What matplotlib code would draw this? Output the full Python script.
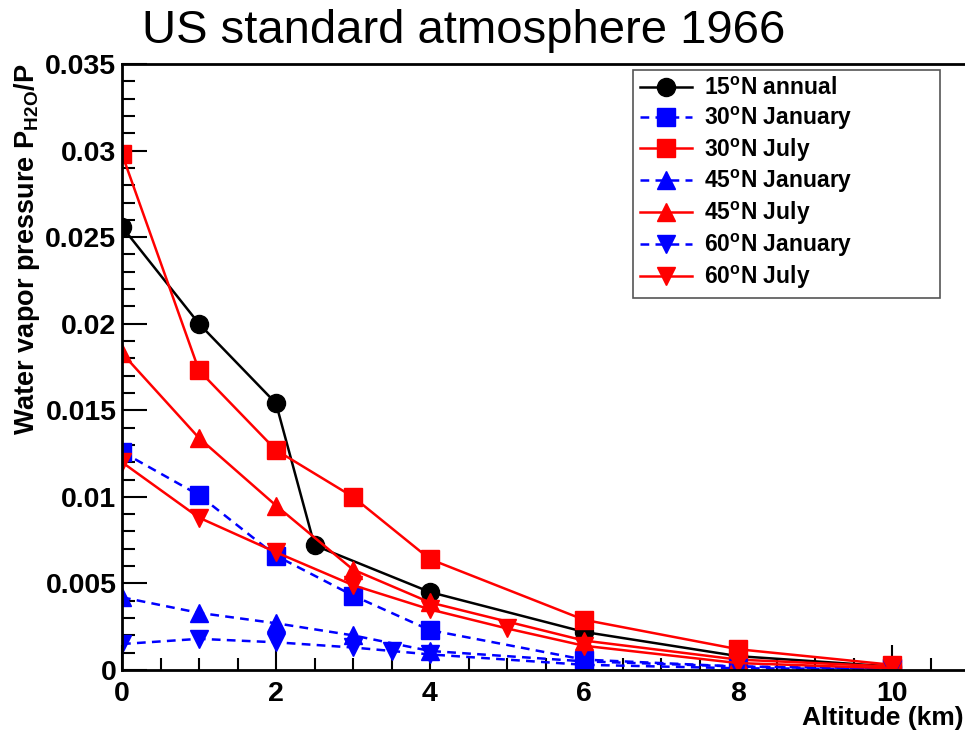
import matplotlib
matplotlib.use("Agg")
import matplotlib.pyplot as plt
from matplotlib.ticker import MultipleLocator, FuncFormatter

plt.rcParams['font.family'] = ['Liberation Sans', 'DejaVu Sans']
plt.rcParams['mathtext.fontset'] = 'custom'
plt.rcParams['mathtext.rm'] = 'Liberation Sans'
plt.rcParams['mathtext.bf'] = 'Liberation Sans:bold'

# altitude grids (km)
alt_15 = [0, 1, 2, 2.5, 4, 6, 8, 10]
alt_std = [0, 1, 2, 3, 4, 6, 8, 10]
alt_60jan = [0, 1, 2, 3, 3.5, 4, 6, 8, 10]
alt_60jul = [0, 1, 2, 3, 4, 5, 6, 8, 10]

# water vapour partial pressure ratio P_H2O / P
p_15ann = [0.0256, 0.0200, 0.0154, 0.0072, 0.0045, 0.0022, 0.0008, 0.0002]
p_30jan = [0.0126, 0.0101, 0.0066, 0.0043, 0.0023, 0.0006, 0.0002, 0.0001]
p_30jul = [0.0298, 0.0173, 0.0127, 0.0100, 0.0064, 0.0029, 0.0012, 0.0003]
p_45jan = [0.0042, 0.0033, 0.0027, 0.0020, 0.0011, 0.0005, 0.0002, 0.00005]
p_45jul = [0.0183, 0.0134, 0.0095, 0.0058, 0.0039, 0.0017, 0.0006, 0.0002]
p_60jan = [0.0015, 0.0018, 0.0016, 0.0013, 0.0011, 0.0009, 0.0003, 0.0001, 0.00005]
p_60jul = [0.0120, 0.0088, 0.0068, 0.0049, 0.0035, 0.0024, 0.0014, 0.0004, 0.0001]

deg = r'$^{\mathbf{o}}$'
labels = ['15' + deg + 'N annual', '30' + deg + 'N January', '30' + deg + 'N July',
          '45' + deg + 'N January', '45' + deg + 'N July',
          '60' + deg + 'N January', '60' + deg + 'N July']

fig = plt.figure(figsize=(9.65, 7.32), dpi=100)
ax = fig.add_axes([122 / 965, 62 / 732, 847 / 965, 606 / 732])

dash = (0, (3.5, 2.5))
ms = 13
lw = 1.8
ax.plot(alt_15, p_15ann, color='black', lw=lw, marker='o', ms=ms, label=labels[0])
ax.plot(alt_std, p_30jan, color='blue', lw=lw, ls=dash, marker='s', ms=ms, label=labels[1])
ax.plot(alt_std, p_30jul, color='red', lw=lw, marker='s', ms=ms, label=labels[2])
ax.plot(alt_std, p_45jan, color='blue', lw=lw, ls=dash, marker='^', ms=ms, label=labels[3])
ax.plot(alt_std, p_45jul, color='red', lw=lw, marker='^', ms=ms, label=labels[4])
ax.plot(alt_60jan, p_60jan, color='blue', lw=lw, ls=dash, marker='v', ms=ms, label=labels[5])
ax.plot(alt_60jul, p_60jul, color='red', lw=lw, marker='v', ms=ms, label=labels[6])

ax.set_xlim(0, 11)
ax.set_ylim(0, 0.035)
ax.xaxis.set_major_locator(MultipleLocator(2))
ax.xaxis.set_minor_locator(MultipleLocator(0.5))
ax.yaxis.set_major_locator(MultipleLocator(0.005))
ax.yaxis.set_minor_locator(MultipleLocator(0.001))
ax.yaxis.set_major_formatter(FuncFormatter(lambda v, p: '%g' % round(v, 4)))
ax.tick_params(which='both', direction='in', width=1.5, labelsize=20.5, top=False, right=False)
ax.tick_params(which='major', length=18)
ax.tick_params(which='minor', length=9)
ax.tick_params(axis='x', pad=8)
ax.tick_params(axis='y', pad=4)
for t in ax.get_xticklabels() + ax.get_yticklabels():
    t.set_fontweight('bold')
for s in ax.spines.values():
    s.set_linewidth(2)

# fixed-width legend box in the upper right
leg = ax.legend(loc='upper left', bbox_to_anchor=(0.603, 0.628, 0.363, 0.362), mode='expand',
                prop={'weight': 'bold', 'size': 16.5}, fancybox=False, framealpha=1,
                edgecolor='#555555', labelspacing=0.2, handlelength=2.3,
                handletextpad=0.5, borderpad=0.3, borderaxespad=0)
leg.get_frame().set_linewidth(1.2)

fig.text(464 / 965, 1 - 31 / 732, 'US standard atmosphere 1966', ha='center', va='center',
         fontsize=34)
fig.text(0.999, 14 / 732, 'Altitude (km)', ha='right', va='center',
         fontsize=19, fontweight='bold')
fig.text(27 / 965, 1 - 64 / 732, r'Water vapor pressure P$_{\mathbf{H2O}}$/P',
         rotation=90, ha='center', va='top', fontsize=19.5, fontweight='bold')

fig.savefig('out.png', dpi=100)
